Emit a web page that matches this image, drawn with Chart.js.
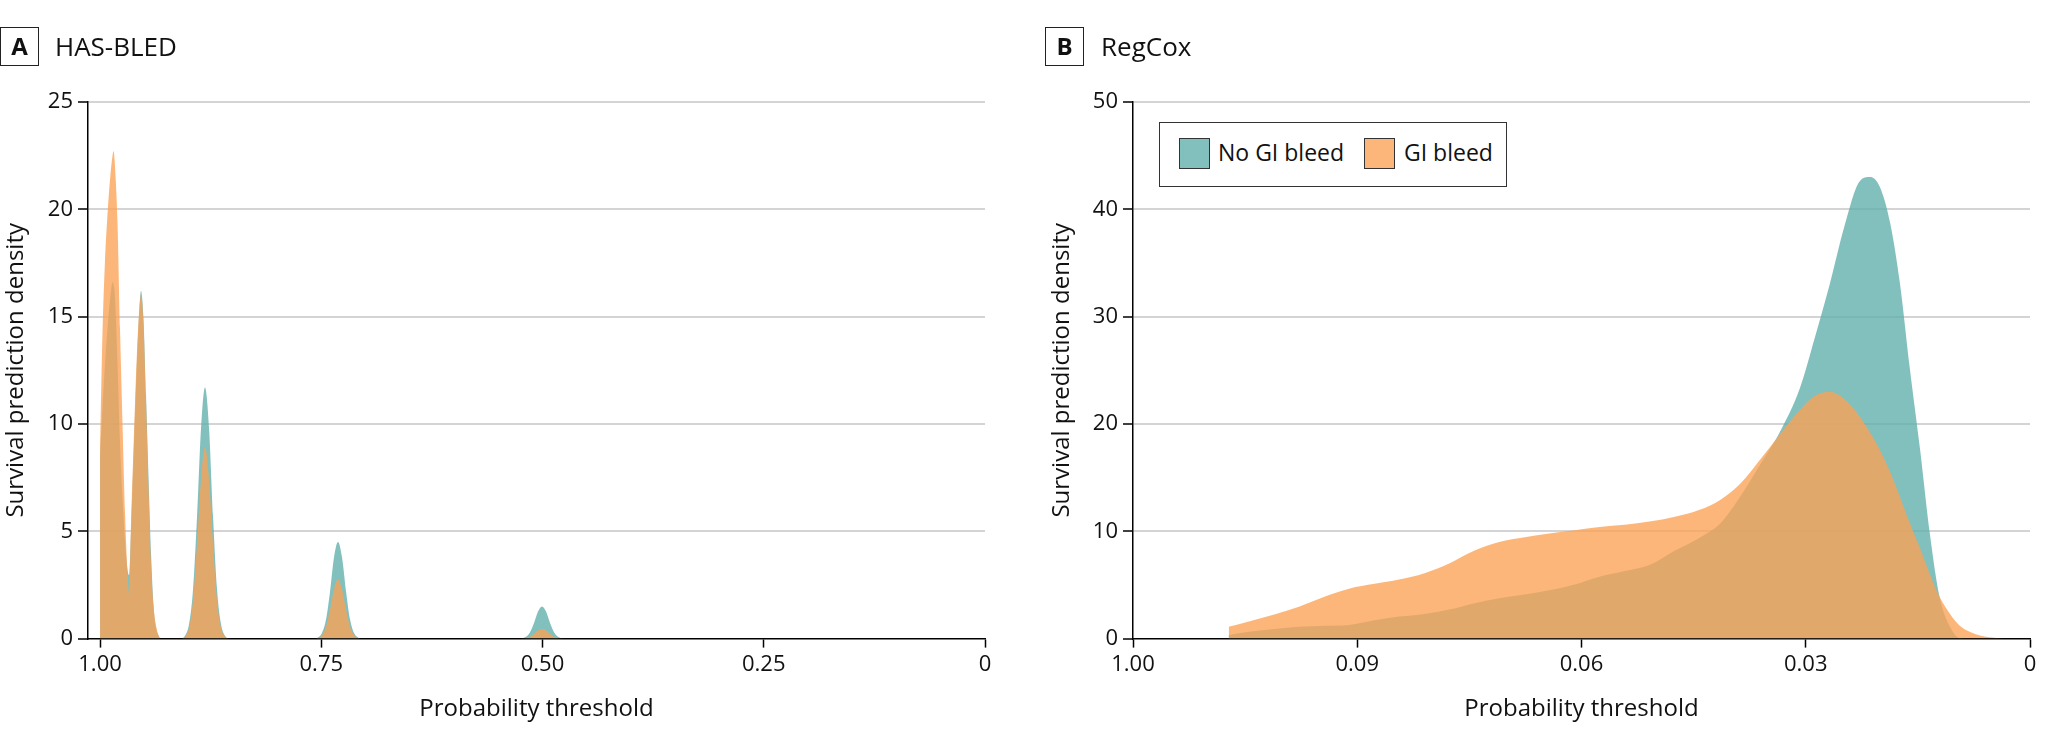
<!DOCTYPE html>
<html>
<head>
<meta charset="utf-8">
<script src="https://cdn.jsdelivr.net/npm/chart.js@4.4.1/dist/chart.umd.min.js"></script>
<style>
html,body{margin:0;padding:0;background:#fff;}
#wrap{position:relative;width:2048px;height:746px;overflow:hidden;font-family:"Open Sans",sans-serif;color:#111;}
canvas{position:absolute;top:0;}
.tag{position:absolute;top:27px;width:39px;height:39px;box-sizing:border-box;border:1.5px solid #222;font-weight:700;font-size:24px;line-height:36px;text-align:center;color:#111;}
.ptitle{position:absolute;top:28px;font-size:26px;line-height:normal;color:#111;white-space:nowrap;}
#legB{position:absolute;left:1159px;top:122px;width:348px;height:65px;box-sizing:border-box;border:1.5px solid #333;background:#fff;}
.sw{position:absolute;top:14.5px;width:31px;height:31px;box-sizing:border-box;border:1.5px solid #333;}
.lt{position:absolute;top:13px;font-size:23px;line-height:normal;white-space:nowrap;color:#111;}
</style>
</head>
<body>
<div id="wrap">
  <canvas id="cA" width="1024" height="746" style="left:0;width:1024px;height:746px"></canvas>
  <canvas id="cB" width="1024" height="746" style="left:1024px;width:1024px;height:746px"></canvas>
  <div class="tag" style="left:0">A</div>
  <div class="ptitle" style="left:55px">HAS-BLED</div>
  <div class="tag" style="left:1045px">B</div>
  <div class="ptitle" style="left:1101px">RegCox</div>
  <div id="legB"></div>
</div>
<script>
// ---- categories ----
const categories = ['No GI bleed', 'GI bleed'];

// ---- Panel A (HAS-BLED) ----
const aThreshold = [
  1.0000,0.9972,0.9944,0.9915,0.9887,0.9859,0.9847,0.9831,0.9802,0.9774,0.9746,0.9718,0.9689,0.9672,
  0.9650,0.9621,0.9593,0.9565,0.9537,0.9508,0.9480,0.9452,0.9424,0.9395,0.9367,0.9339,0.9311,
  0.9085,0.9040,0.8994,0.8949,0.8904,0.8859,0.8814,0.8768,0.8723,0.8678,0.8633,0.8588,0.8542,
  0.7582,0.7537,0.7492,0.7446,0.7401,0.7356,0.7311,0.7266,0.7220,0.7175,0.7130,0.7085,0.7040,
  0.5277,0.5232,0.5186,0.5141,0.5096,0.5051,0.5006,0.4960,0.4915,0.4870,0.4825,0.4780,0.4734
];
const aNoBleed = [
  8.5,10.8,12.8,14.5,15.8,16.6,16.5,15.9,12.8,9.1,6.6,4.6,3.2,2.96,
  5.0,8.5,11.8,14.6,16.2,14.8,11.3,7.5,4.0,1.5,0.5,0.15,0,
  0,0.13,0.68,2.3,5.7,9.8,11.7,9.8,5.7,2.3,0.68,0.13,0,
  0,0.05,0.26,0.9,2.2,3.8,4.5,3.8,2.2,0.9,0.26,0.05,0,
  0,0.02,0.09,0.3,0.73,1.26,1.5,1.26,0.73,0.3,0.09,0.02,0
];
const aBleed = [
  9.0,14.3,17.6,19.8,21.4,22.5,22.7,22.0,19.3,14.4,10.0,5.9,3.0,2.1,
  5.4,9.0,12.3,14.8,16.0,14.6,11.0,7.0,3.5,1.5,0.6,0.15,0,
  0,0.1,0.5,1.8,4.4,7.4,8.9,7.4,4.4,1.8,0.5,0.1,0,
  0,0.03,0.16,0.55,1.35,2.3,2.75,2.3,1.35,0.55,0.16,0.03,0,
  0,0,0.03,0.09,0.22,0.38,0.45,0.38,0.22,0.09,0.03,0,0
];
const aTickValues = [1, 0.75, 0.5, 0.25, 0];
const aTickLabels = ['1.00', '0.75', '0.50', '0.25', '0'];

// ---- Panel B (RegCox) ----
const bThreshold = [
  0.1072,0.1045,0.1011,0.0978,0.0944,0.0911,0.0877,0.0844,0.0810,0.0777,0.0743,0.0710,0.0676,0.0643,
  0.0609,0.0576,0.0542,0.0509,0.0475,0.0442,0.0415,0.0388,0.0362,0.0335,0.0308,0.0288,0.0268,0.0248,
  0.0228,0.0214,0.0201,0.0187,0.0174,0.0161,0.0147,0.0134,0.0121,0.0107,0.0094,0.0080,0.0067,0.0054,
  0.0040,0.0027
];
const bNoBleed = [
  0.33,0.64,0.9,1.1,1.2,1.27,1.7,2.05,2.3,2.7,3.3,3.75,4.1,4.5,
  5.05,5.77,6.3,6.85,8.2,9.4,10.7,13.2,16.1,19.2,23.3,28.0,33.0,38.5,
  42.6,43.0,42.1,38.7,33.1,25.3,17.6,9.8,3.9,1.1,0.05,0,0,0,
  0,0
];
const bBleed = [
  1.1,1.6,2.25,2.97,3.9,4.65,5.1,5.5,6.1,7.0,8.2,9.0,9.45,9.8,
  10.1,10.4,10.6,10.9,11.35,12.0,12.9,14.4,16.6,19.0,21.3,22.6,23.0,22.3,
  20.7,19.2,17.6,15.5,13.2,10.8,8.4,6.0,3.9,2.3,1.2,0.62,0.3,0.12,
  0.03,0
];
const bTickValues = [0.12, 0.09, 0.06, 0.03, 0];
const bTickLabels = ['1.00', '0.09', '0.06', '0.03', '0'];

// ---- styles ----
const FONT = '"Open Sans", sans-serif';
const tealFill = 'rgba(95,174,172,0.78)';
const orangeFill = 'rgba(252,161,85,0.78)';

function makeChart(canvasId, xs, noBleed, bleed, cfg) {
  const ds = (label, ys, color, order) => ({
    label, data: xs.map((x, i) => ({x: x, y: ys[i]})),
    backgroundColor: color, borderWidth: 0, pointRadius: 0, fill: 'origin',
    cubicInterpolationMode: 'monotone', order
  });
  return new Chart(document.getElementById(canvasId), {
    type: 'line',
    data: {datasets: [ds(categories[1], bleed, orangeFill, 0), ds(categories[0], noBleed, tealFill, 1)]},
    options: {
      responsive: false, animation: false, devicePixelRatio: 1,
      layout: {padding: {left: 0, right: cfg.padRight, top: 102, bottom: 0}},
      plugins: {legend: {display: false}, tooltip: {enabled: false}},
      scales: {
        x: {
          type: 'linear', reverse: true, min: 0, max: cfg.xMax,
          afterBuildTicks: s => { s.ticks = cfg.tickValues.map(v => ({value: v})); },
          ticks: {
            callback: v => { const i = cfg.tickValues.indexOf(v); return i >= 0 ? cfg.tickLabels[i] : ''; },
            font: {family: FONT, size: 22}, color: '#111', padding: 4, maxRotation: 0, autoSkip: false
          },
          grid: {drawOnChartArea: false, drawTicks: true, tickLength: 9, tickColor: '#000', tickWidth: 1.5},
          border: {color: '#000', width: 1.5},
          title: {display: true, text: 'Probability threshold', font: {family: FONT, size: 24}, color: '#111', padding: {top: 0, bottom: 22}},
          afterFit: s => { s.height = 107.4; }
        },
        y: {
          min: 0, max: cfg.yMax,
          ticks: {stepSize: cfg.yStep, font: {family: FONT, size: 22}, color: '#111', padding: 5},
          grid: {
            color: c => (c.tick && c.tick.value === 0) ? 'rgba(0,0,0,0)' : '#d4d4d4',
            lineWidth: 2, tickColor: '#000', tickLength: 10, tickWidth: 1.5
          },
          border: {color: '#000', width: 1.5},
          title: {display: true, text: 'Survival prediction density', font: {family: FONT, size: 24}, color: '#111', padding: {top: cfg.yTitlePad, bottom: 0}},
          afterFit: s => { s.width = cfg.yWidth; }
        }
      }
    }
  });
}

makeChart('cA', aThreshold, aNoBleed, aBleed,
  {padRight: 39, xMax: 1.0136, tickValues: aTickValues, tickLabels: aTickLabels, yMax: 25, yStep: 5, yWidth: 88, yTitlePad: 2});
const chartB = makeChart('cB', bThreshold, bNoBleed, bBleed,
  {padRight: 18, xMax: 0.12, tickValues: bTickValues, tickLabels: bTickLabels, yMax: 50, yStep: 10, yWidth: 109, yTitlePad: 24});

// HTML legend for panel B, built from the chart's datasets
(function () {
  const leg = document.getElementById('legB');
  const items = [
    {ds: chartB.data.datasets[1], sw: 19, tx: 58},
    {ds: chartB.data.datasets[0], sw: 204, tx: 244}
  ];
  items.forEach(it => {
    const s = document.createElement('div');
    s.className = 'sw'; s.style.left = it.sw + 'px'; s.style.background = it.ds.backgroundColor;
    leg.appendChild(s);
    const t = document.createElement('div');
    t.className = 'lt'; t.style.left = it.tx + 'px'; t.textContent = it.ds.label;
    leg.appendChild(t);
  });
})();
</script>
</body>
</html>
